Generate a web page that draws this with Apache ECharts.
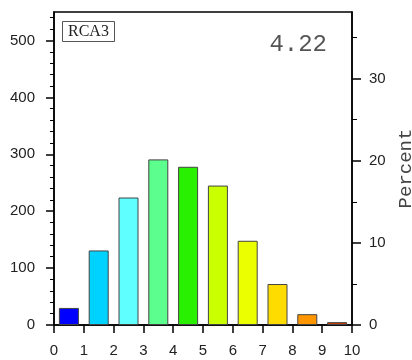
<!DOCTYPE html>
<html>
<head>
<meta charset="utf-8">
<script src="https://cdn.jsdelivr.net/npm/echarts@6/dist/echarts.min.js"></script>
<style>
  html, body { margin: 0; padding: 0; background: #fff; }
  #chart { width: 412px; height: 360px; }
</style>
</head>
<body>
<div id="chart"></div>
<script>
// Histogram of counts per unit bin (0-10), with percent on the right axis
const binCenters = [0.5, 1.5, 2.5, 3.5, 4.5, 5.5, 6.5, 7.5, 8.5, 9.5];
const counts = [30, 131, 224, 291, 278, 245, 148, 72, 19, 5];
const barColors = ['#0000ff', '#00d2ff', '#60ffff', '#5cff8e', '#28f000',
                   '#caff00', '#ecff00', '#ffdc00', '#ff9600', '#d23c00'];
const xTicks = [0, 1, 2, 3, 4, 5, 6, 7, 8, 9, 10];
const countTicks = [0, 100, 200, 300, 400, 500];
const percentTicks = [0, 10, 20, 30];
const modelName = 'RCA3';
const meanLabel = '4.22';

const countMax = 550;
const total = counts.reduce((a, b) => a + b, 0);
const percentMax = countMax * 100 / total;

const countMinor = [];
for (let v = 20; v < countMax; v += 20) if (v % 100 !== 0) countMinor.push(v);
const percentMinor = [];
for (let v = 5; v < percentMax; v += 10) percentMinor.push(v);

const labelFont = { fontFamily: 'Liberation Sans', fontSize: 15, color: '#222' };

const chart = echarts.init(document.getElementById('chart'));
chart.setOption({
  animation: false,
  backgroundColor: '#fff',
  title: [
    {
      text: modelName, left: 62, top: 21,
      padding: [3, 6, 2, 6], borderColor: '#555', borderWidth: 1,
      textStyle: { fontFamily: 'Liberation Serif', fontSize: 16, fontWeight: 'normal', color: '#222' }
    },
    {
      text: meanLabel, right: 80, top: 28,
      textStyle: { fontFamily: 'Liberation Mono', fontSize: 24, fontWeight: 'normal', color: '#555' }
    }
  ],
  grid: {
    left: 54, right: 60, top: 12, bottom: 35,
    outerBoundsMode: 'none', containLabel: false,
    show: true, borderColor: '#000', borderWidth: 1.5, backgroundColor: 'transparent'
  },
  xAxis: {
    type: 'value', min: 0, max: 10, interval: 1,
    axisLine: { lineStyle: { color: '#000', width: 1.5 } },
    axisTick: { length: 8, inside: false, lineStyle: { color: '#000', width: 1.5 }, customValues: xTicks },
    axisLabel: Object.assign({ margin: 18, customValues: xTicks }, labelFont),
    splitLine: { show: false }
  },
  yAxis: [
    {
      type: 'value', position: 'left', min: 0, max: countMax,
      axisLine: { show: true, lineStyle: { color: '#000', width: 1.5 } },
      axisTick: { length: 8, lineStyle: { color: '#000', width: 1.5 }, customValues: countTicks },
      axisLabel: Object.assign({ margin: 19, customValues: countTicks }, labelFont),
      splitLine: { show: false }
    },
    {
      type: 'value', position: 'left', min: 0, max: countMax,
      axisLine: { show: false },
      axisTick: { length: 4, lineStyle: { color: '#000', width: 1 }, customValues: countMinor },
      axisLabel: { show: false },
      splitLine: { show: false }
    },
    {
      type: 'value', position: 'right', min: 0, max: percentMax,
      name: 'Percent', nameLocation: 'middle', nameGap: 44, nameRotate: 90,
      nameTextStyle: { fontFamily: 'Liberation Mono', fontSize: 19, color: '#444' },
      axisLine: { show: true, lineStyle: { color: '#000', width: 1.5 } },
      axisTick: { length: 9, lineStyle: { color: '#000', width: 1.5 }, customValues: percentTicks },
      axisLabel: Object.assign({ margin: 17, customValues: percentTicks }, labelFont),
      splitLine: { show: false }
    },
    {
      type: 'value', position: 'right', min: 0, max: percentMax,
      axisLine: { show: false },
      axisTick: { length: 5, lineStyle: { color: '#000', width: 1 }, customValues: percentMinor },
      axisLabel: { show: false },
      splitLine: { show: false }
    }
  ],
  series: [{
    type: 'bar',
    xAxisIndex: 0, yAxisIndex: 0,
    barWidth: 20,
    data: binCenters.map((x, i) => ({
      value: [x, counts[i]],
      itemStyle: { color: barColors[i], borderColor: '#444', borderWidth: 1 }
    }))
  }]
});
</script>
</body>
</html>
